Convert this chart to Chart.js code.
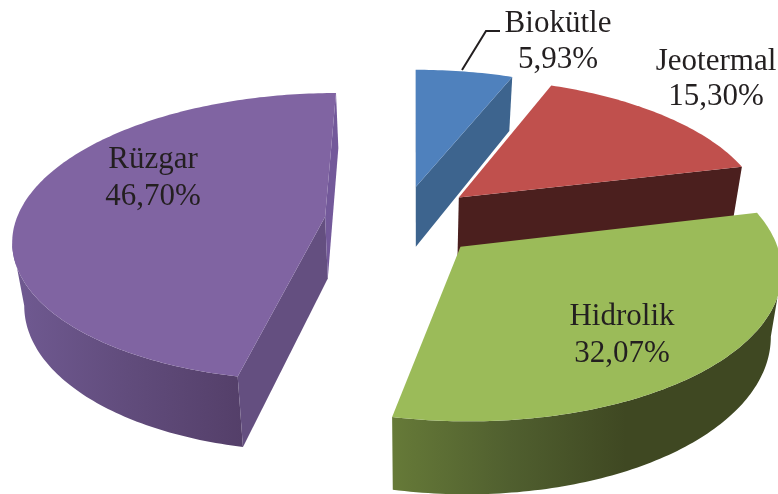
<!DOCTYPE html>
<html>
<head>
<meta charset="utf-8">
<style>html,body{margin:0;padding:0;background:#fff}canvas{display:block}</style>
<script src="https://cdn.jsdelivr.net/npm/chart.js@4"></script>
</head>
<body>
<canvas id="c" width="778" height="494"></canvas>
<script>
const categories = ["Biokütle", "Jeotermal", "Hidrolik", "Rüzgar"];
const values = [5.93, 15.30, 32.07, 46.70];
const valueLabels = ["5,93%", "15,30%", "32,07%", "46,70%"];
const explosionPercent = [25, 25, 26, 25];
const topColors = ["#4F81BD", "#C0504D", "#9BBB59", "#8064A2"];
const startFaceColors = ["#3F6792", "#4B1F1E", "#3F4921", "#644F80"];
const endFaceColors = ["#3D648E", "#4B1F1E", "#3F4921", "#73599A"];
const rimStops = [
  [[0, "#3D648E"], [1, "#3D648E"]],
  [[0, "#4B1F1E"], [1, "#4B1F1E"]],
  [[0, "#667A38"], [0.3, "#505F2F"], [0.6, "#3F4822"], [1, "#3F4822"]],
  [[0, "#705A92"], [0.5, "#614C7C"], [1, "#543F69"]]
];
const labelAnchors = [[558, 32, 68], [716, 70, 105], [622, 325, 362], [153, 168, 205]];
const leaderLine = [[500, 31], [486, 31], [462, 70]];

const VIEW = {vx: 414, vy: 220.4, a: 309, b: 142, k: 0.14, cx: -0.04, depth: 62, shrink: 0.97};

function project(X, Y) {
  const s = 1 / (1 - VIEW.k * Y);
  return {x: VIEW.vx + VIEW.a * X * s, y: VIEW.vy + VIEW.b * Y * s, s};
}
function lower(p) {
  return {x: VIEW.vx + (p.x - VIEW.vx) * VIEW.shrink, y: p.y + VIEW.depth * Math.pow(p.s, 0.9)};
}
function fillPoly(ctx, pts, fill) {
  ctx.beginPath();
  pts.forEach((p, i) => i ? ctx.lineTo(p.x, p.y) : ctx.moveTo(p.x, p.y));
  ctx.closePath();
  ctx.fillStyle = fill;
  ctx.fill();
}

const pie3d = {
  id: "pie3d",
  beforeDatasetDraw(chart, args) {
    const ctx = chart.ctx;
    const arcs = args.meta.data;
    // back slices first, front slices last, so near slices cover far walls
    [0, 1, 3, 2].forEach(i => {
      const arc = arcs[i];
      const e = arc.options.offset / 100;
      const mid = (arc.startAngle + arc.endAngle) / 2;
      const ox = VIEW.cx + Math.cos(mid) * e, oy = Math.sin(mid) * e;
      const apex = project(ox, oy);
      const rim = [];
      const n = Math.max(8, Math.round((arc.endAngle - arc.startAngle) * 60));
      for (let j = 0; j <= n; j++) {
        const t = arc.startAngle + (arc.endAngle - arc.startAngle) * j / n;
        rim.push(project(ox + Math.cos(t), oy + Math.sin(t)));
      }
      // outer wall: the part of the rim that runs right-to-left faces the viewer
      const vis = rim.filter((p, j) =>
        (j < n && rim[j + 1].x < p.x) || (j > 0 && p.x < rim[j - 1].x));
      if (vis.length > 1) {
        const xs = vis.map(p => p.x).concat(vis.map(p => lower(p).x));
        const g = ctx.createLinearGradient(Math.min(...xs), 0, Math.max(...xs), 0);
        const stops = rimStops[i];
        stops.forEach(s => g.addColorStop(s[0], s[1]));
        fillPoly(ctx, vis.concat(vis.slice().reverse().map(lower)), g);
      }
      const first = rim[0], last = rim[n];
      if (first.x < apex.x) fillPoly(ctx, [apex, first, lower(first), lower(apex)], startFaceColors[i]);
      if (apex.x < last.x) fillPoly(ctx, [last, apex, lower(apex), lower(last)], endFaceColors[i]);
      fillPoly(ctx, [apex].concat(rim), arc.options.backgroundColor);
    });
    ctx.save();
    ctx.fillStyle = "#231F20";
    ctx.font = '31px "Liberation Serif"';
    ctx.textAlign = "center";
    ctx.textBaseline = "alphabetic";
    categories.forEach((name, i) => {
      const a = labelAnchors[i];
      ctx.fillText(name, a[0], a[1]);
      ctx.fillText(valueLabels[i], a[0], a[2]);
    });
    ctx.strokeStyle = "#231F20";
    ctx.lineWidth = 2;
    ctx.beginPath();
    leaderLine.forEach((p, i) => i ? ctx.lineTo(p[0], p[1]) : ctx.moveTo(p[0], p[1]));
    ctx.stroke();
    ctx.restore();
    return false;
  }
};

new Chart(document.getElementById("c"), {
  type: "pie",
  data: {
    labels: categories,
    datasets: [{data: values, backgroundColor: topColors, offset: explosionPercent, borderWidth: 0}]
  },
  options: {
    responsive: false,
    animation: false,
    rotation: 0,
    events: [],
    plugins: {legend: {display: false}, tooltip: {enabled: false}}
  },
  plugins: [pie3d]
});
</script>
</body>
</html>
